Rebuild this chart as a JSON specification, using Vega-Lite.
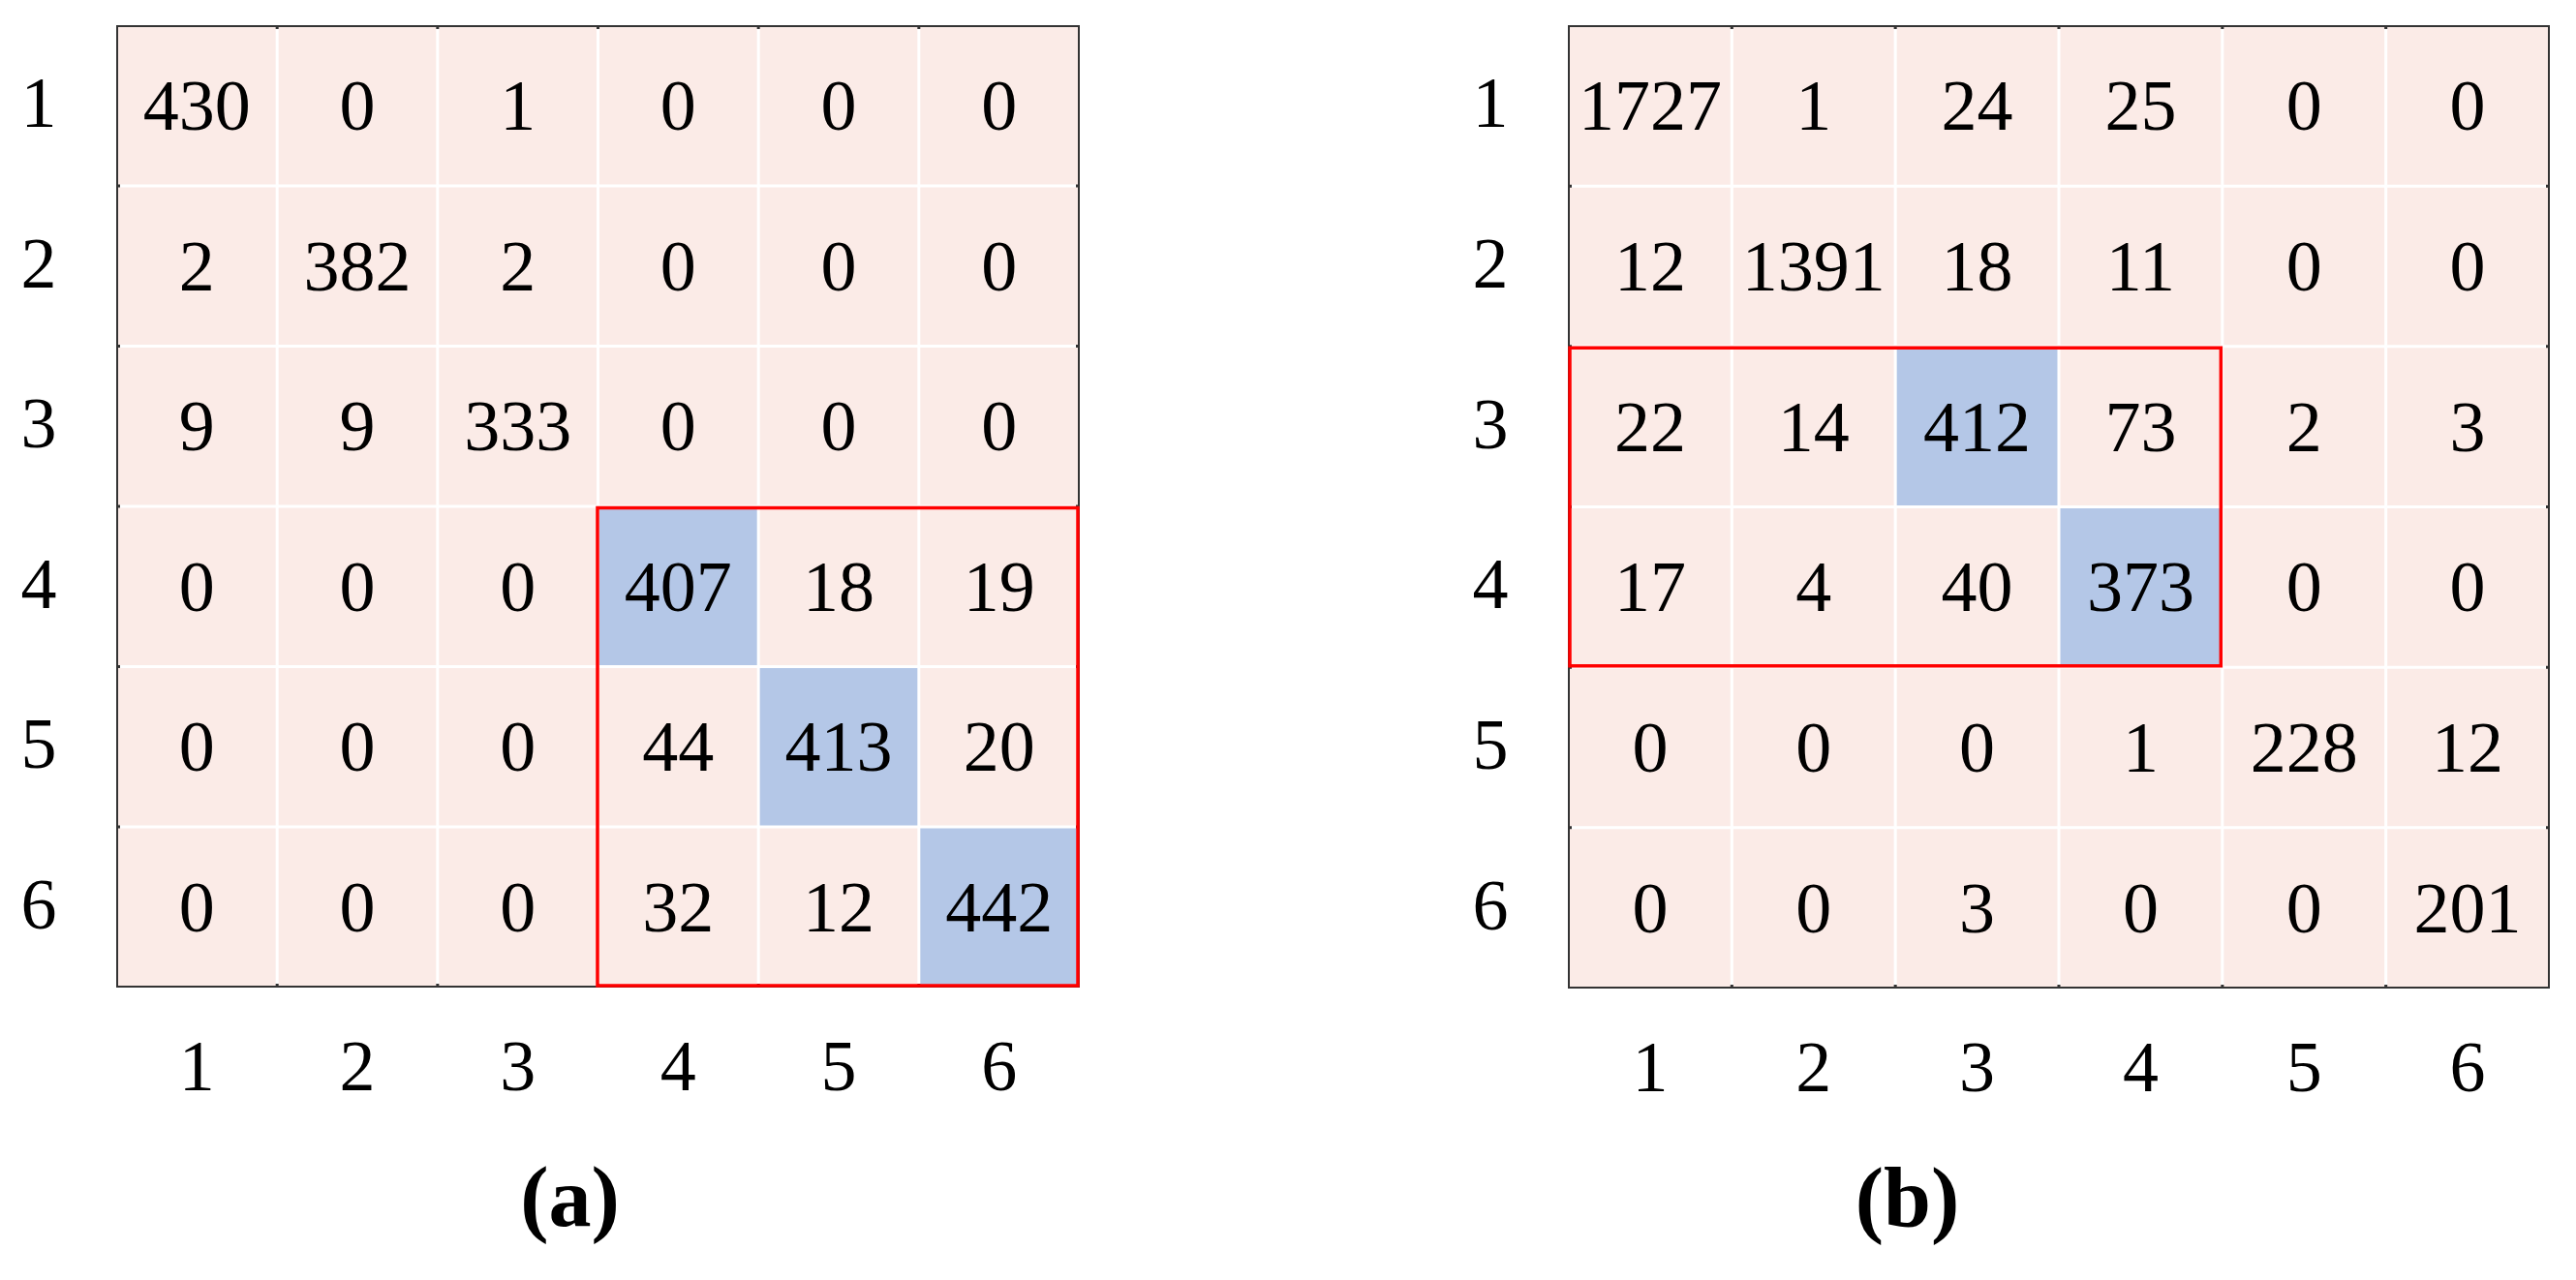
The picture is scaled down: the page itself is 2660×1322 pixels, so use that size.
{
  "$schema": "https://vega.github.io/schema/vega-lite/v6.json",
  "padding": {"left": 19, "top": 26, "right": 0, "bottom": 0},
  "background": "white",
  "spacing": 401,
  "datasets": {
    "cells": [
      {"panel": "a", "r": 1, "c": 1, "v": 430, "hl": "n"},
      {"panel": "a", "r": 1, "c": 2, "v": 0, "hl": "n"},
      {"panel": "a", "r": 1, "c": 3, "v": 1, "hl": "n"},
      {"panel": "a", "r": 1, "c": 4, "v": 0, "hl": "n"},
      {"panel": "a", "r": 1, "c": 5, "v": 0, "hl": "n"},
      {"panel": "a", "r": 1, "c": 6, "v": 0, "hl": "n"},
      {"panel": "a", "r": 2, "c": 1, "v": 2, "hl": "n"},
      {"panel": "a", "r": 2, "c": 2, "v": 382, "hl": "n"},
      {"panel": "a", "r": 2, "c": 3, "v": 2, "hl": "n"},
      {"panel": "a", "r": 2, "c": 4, "v": 0, "hl": "n"},
      {"panel": "a", "r": 2, "c": 5, "v": 0, "hl": "n"},
      {"panel": "a", "r": 2, "c": 6, "v": 0, "hl": "n"},
      {"panel": "a", "r": 3, "c": 1, "v": 9, "hl": "n"},
      {"panel": "a", "r": 3, "c": 2, "v": 9, "hl": "n"},
      {"panel": "a", "r": 3, "c": 3, "v": 333, "hl": "n"},
      {"panel": "a", "r": 3, "c": 4, "v": 0, "hl": "n"},
      {"panel": "a", "r": 3, "c": 5, "v": 0, "hl": "n"},
      {"panel": "a", "r": 3, "c": 6, "v": 0, "hl": "n"},
      {"panel": "a", "r": 4, "c": 1, "v": 0, "hl": "n"},
      {"panel": "a", "r": 4, "c": 2, "v": 0, "hl": "n"},
      {"panel": "a", "r": 4, "c": 3, "v": 0, "hl": "n"},
      {"panel": "a", "r": 4, "c": 4, "v": 407, "hl": "y"},
      {"panel": "a", "r": 4, "c": 5, "v": 18, "hl": "n"},
      {"panel": "a", "r": 4, "c": 6, "v": 19, "hl": "n"},
      {"panel": "a", "r": 5, "c": 1, "v": 0, "hl": "n"},
      {"panel": "a", "r": 5, "c": 2, "v": 0, "hl": "n"},
      {"panel": "a", "r": 5, "c": 3, "v": 0, "hl": "n"},
      {"panel": "a", "r": 5, "c": 4, "v": 44, "hl": "n"},
      {"panel": "a", "r": 5, "c": 5, "v": 413, "hl": "y"},
      {"panel": "a", "r": 5, "c": 6, "v": 20, "hl": "n"},
      {"panel": "a", "r": 6, "c": 1, "v": 0, "hl": "n"},
      {"panel": "a", "r": 6, "c": 2, "v": 0, "hl": "n"},
      {"panel": "a", "r": 6, "c": 3, "v": 0, "hl": "n"},
      {"panel": "a", "r": 6, "c": 4, "v": 32, "hl": "n"},
      {"panel": "a", "r": 6, "c": 5, "v": 12, "hl": "n"},
      {"panel": "a", "r": 6, "c": 6, "v": 442, "hl": "y"},
      {"panel": "b", "r": 1, "c": 1, "v": 1727, "hl": "n"},
      {"panel": "b", "r": 1, "c": 2, "v": 1, "hl": "n"},
      {"panel": "b", "r": 1, "c": 3, "v": 24, "hl": "n"},
      {"panel": "b", "r": 1, "c": 4, "v": 25, "hl": "n"},
      {"panel": "b", "r": 1, "c": 5, "v": 0, "hl": "n"},
      {"panel": "b", "r": 1, "c": 6, "v": 0, "hl": "n"},
      {"panel": "b", "r": 2, "c": 1, "v": 12, "hl": "n"},
      {"panel": "b", "r": 2, "c": 2, "v": 1391, "hl": "n"},
      {"panel": "b", "r": 2, "c": 3, "v": 18, "hl": "n"},
      {"panel": "b", "r": 2, "c": 4, "v": 11, "hl": "n"},
      {"panel": "b", "r": 2, "c": 5, "v": 0, "hl": "n"},
      {"panel": "b", "r": 2, "c": 6, "v": 0, "hl": "n"},
      {"panel": "b", "r": 3, "c": 1, "v": 22, "hl": "n"},
      {"panel": "b", "r": 3, "c": 2, "v": 14, "hl": "n"},
      {"panel": "b", "r": 3, "c": 3, "v": 412, "hl": "y"},
      {"panel": "b", "r": 3, "c": 4, "v": 73, "hl": "n"},
      {"panel": "b", "r": 3, "c": 5, "v": 2, "hl": "n"},
      {"panel": "b", "r": 3, "c": 6, "v": 3, "hl": "n"},
      {"panel": "b", "r": 4, "c": 1, "v": 17, "hl": "n"},
      {"panel": "b", "r": 4, "c": 2, "v": 4, "hl": "n"},
      {"panel": "b", "r": 4, "c": 3, "v": 40, "hl": "n"},
      {"panel": "b", "r": 4, "c": 4, "v": 373, "hl": "y"},
      {"panel": "b", "r": 4, "c": 5, "v": 0, "hl": "n"},
      {"panel": "b", "r": 4, "c": 6, "v": 0, "hl": "n"},
      {"panel": "b", "r": 5, "c": 1, "v": 0, "hl": "n"},
      {"panel": "b", "r": 5, "c": 2, "v": 0, "hl": "n"},
      {"panel": "b", "r": 5, "c": 3, "v": 0, "hl": "n"},
      {"panel": "b", "r": 5, "c": 4, "v": 1, "hl": "n"},
      {"panel": "b", "r": 5, "c": 5, "v": 228, "hl": "n"},
      {"panel": "b", "r": 5, "c": 6, "v": 12, "hl": "n"},
      {"panel": "b", "r": 6, "c": 1, "v": 0, "hl": "n"},
      {"panel": "b", "r": 6, "c": 2, "v": 0, "hl": "n"},
      {"panel": "b", "r": 6, "c": 3, "v": 3, "hl": "n"},
      {"panel": "b", "r": 6, "c": 4, "v": 0, "hl": "n"},
      {"panel": "b", "r": 6, "c": 5, "v": 0, "hl": "n"},
      {"panel": "b", "r": 6, "c": 6, "v": 201, "hl": "n"}
    ],
    "boxes": [
      {"panel": "a", "c1": 4, "c2": 6, "r1": 4, "r2": 6},
      {"panel": "b", "c1": 1, "c2": 4, "r1": 3, "r2": 4}
    ]
  },
  "config": {
    "view": {"stroke": "#333333", "strokeWidth": 4},
    "font": "Liberation Serif",
    "axis": {
      "labelFont": "Liberation Serif",
      "labelFontSize": 74,
      "labelColor": "black",
      "ticks": false,
      "domain": false,
      "grid": false,
      "labelAngle": 0,
      "titleFont": "Liberation Serif",
      "titleFontSize": 88,
      "titleFontWeight": "bold",
      "titleColor": "black"
    },
    "scale": {"bandPaddingInner": 0.018, "bandPaddingOuter": 0}
  },
  "hconcat": [
    {
      "width": 991,
      "height": 990,
      "layer": [
        {
          "data": {"name": "cells"},
          "transform": [{"filter": "datum.panel === 'a'"}],
          "mark": {"type": "rect"},
          "encoding": {
            "x": {"field": "c", "type": "ordinal", "axis": {"orient": "bottom", "labelPadding": 49, "title": "(a)", "titleX": 466, "titleY": 247, "titleBaseline": "alphabetic", "titleAnchor": "middle", "titleAlign": "center"}},
            "y": {"field": "r", "type": "ordinal", "axis": {"labelPadding": 64, "title": null}},
            "fill": {"field": "hl", "type": "nominal", "scale": {"domain": ["n", "y"], "range": ["#FBEBE7", "#B4C7E7"]}, "legend": null}
          }
        },
        {
          "data": {"name": "cells"},
          "transform": [{"filter": "datum.panel === 'a'"}],
          "mark": {"type": "text", "font": "Liberation Serif", "fontSize": 74, "color": "black", "dy": 3},
          "encoding": {
            "x": {"field": "c", "type": "ordinal"},
            "y": {"field": "r", "type": "ordinal"},
            "text": {"field": "v", "type": "quantitative"}
          }
        },
        {
          "data": {"name": "boxes"},
          "transform": [{"filter": "datum.panel === 'a'"}],
          "mark": {"type": "rect", "fill": null, "fillOpacity": 0, "stroke": "#ff0000", "strokeWidth": 3.5, "xOffset": -2},
          "encoding": {
            "x": {"field": "c1", "type": "ordinal", "bandPosition": 0},
            "x2": {"field": "c2", "bandPosition": 1},
            "y": {"field": "r1", "type": "ordinal", "bandPosition": 0},
            "y2": {"field": "r2", "bandPosition": 1}
          }
        }
      ]
    },
    {
      "width": 1010,
      "height": 991,
      "layer": [
        {
          "data": {"name": "cells"},
          "transform": [{"filter": "datum.panel === 'b'"}],
          "mark": {"type": "rect"},
          "encoding": {
            "x": {"field": "c", "type": "ordinal", "axis": {"orient": "bottom", "labelPadding": 49, "title": "(b)", "titleX": 348, "titleY": 247, "titleBaseline": "alphabetic", "titleAnchor": "middle", "titleAlign": "center"}},
            "y": {"field": "r", "type": "ordinal", "axis": {"labelPadding": 64, "title": null}},
            "fill": {"field": "hl", "type": "nominal", "scale": {"domain": ["n", "y"], "range": ["#FBEBE7", "#B4C7E7"]}, "legend": null}
          }
        },
        {
          "data": {"name": "cells"},
          "transform": [{"filter": "datum.panel === 'b'"}],
          "mark": {"type": "text", "font": "Liberation Serif", "fontSize": 74, "color": "black", "dy": 3},
          "encoding": {
            "x": {"field": "c", "type": "ordinal"},
            "y": {"field": "r", "type": "ordinal"},
            "text": {"field": "v", "type": "quantitative"}
          }
        },
        {
          "data": {"name": "boxes"},
          "transform": [{"filter": "datum.panel === 'b'"}],
          "mark": {"type": "rect", "fill": null, "fillOpacity": 0, "stroke": "#ff0000", "strokeWidth": 3.5},
          "encoding": {
            "x": {"field": "c1", "type": "ordinal", "bandPosition": 0},
            "x2": {"field": "c2", "bandPosition": 1},
            "y": {"field": "r1", "type": "ordinal", "bandPosition": 0},
            "y2": {"field": "r2", "bandPosition": 1}
          }
        }
      ]
    }
  ]
}
